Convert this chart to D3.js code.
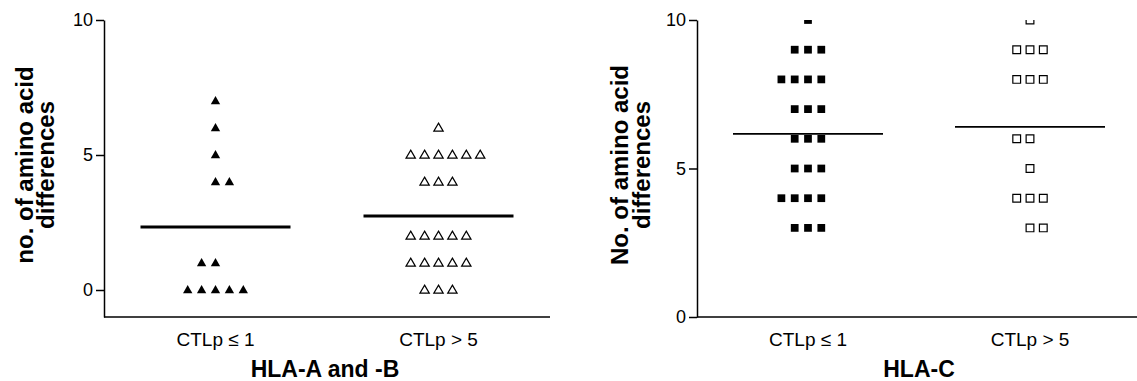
<!DOCTYPE html>
<html lang="en">
<head>
  <meta charset="UTF-8">
  <title>Amino acid differences by CTLp group</title>
  <script src="https://d3js.org/d3.v7.min.js"></script>
  <style>
    body { margin: 0; background: #fff; }
    svg { display: block; font-family: "Liberation Sans", Arial, sans-serif; }
    .axis path, .axis line { stroke: #000; stroke-width: 1.5px; }
    .axis text { font-size: 18px; fill: #000; }
    .ylab { font-weight: bold; font-size: 24px; fill: #000; }
    .title { font-weight: bold; font-size: 23px; fill: #000; }
  </style>
</head>
<body>
  <div id="vis"></div>
  <script>
    // categories and tick labels
    const categories = ["CTLp \u2264 1", "CTLp > 5"];
    const yTicks = [0, 5, 10];

    // points as [value, column slot] — slot is the dot's column within its row
    const abLow = [[0,-2],[0,-1],[0,0],[0,1],[0,2],[1,-1],[1,0],[4,0],[4,1],[5,0],[6,0],[7,0]];
    const abHigh = [[0,-1],[0,0],[0,1],
      [1,-2],[1,-1],[1,0],[1,1],[1,2],
      [2,-2],[2,-1],[2,0],[2,1],[2,2],
      [4,-1],[4,0],[4,1],
      [5,-2],[5,-1],[5,0],[5,1],[5,2],[5,3],
      [6,0]];
    const cLow = [[3,-1],[3,0],[3,1],
      [4,-2],[4,-1],[4,0],[4,1],
      [5,-1],[5,0],[5,1],
      [6,-1],[6,0],[6,1],
      [7,-1],[7,0],[7,1],
      [8,-2],[8,-1],[8,0],[8,1],
      [9,-1],[9,0],[9,1],
      [10,0]];
    const cHigh = [[3,0],[3,1],
      [4,-1],[4,0],[4,1],
      [5,0],
      [6,-1],[6,0],
      [8,-1],[8,0],[8,1],
      [9,-1],[9,0],[9,1],
      [10,0]];

    const W = 1137, H = 381;
    const svg = d3.select("#vis").append("svg").attr("width", W).attr("height", H);

    const panels = [
      { id: "ab", x0: 104, x1: 550, xr: 550, yDomain: [-1, 10], groups: [abLow, abHigh],
        shape: d3.symbolTriangle, size: 38, step: 13.9, meanW: 3, title: "HLA-A and -B", titleX: 325,
        ylab: ["no. of amino acid", "differences"], labX: [33, 54] },
      { id: "c", x0: 697, x1: 1141, xr: 1137, yDomain: [0, 10], groups: [cLow, cHigh],
        shape: d3.symbolSquare, size: 60, step: 13.3, meanW: 1.6, title: "HLA-C", titleX: 919,
        ylab: ["No. of amino acid", "differences"], labX: [628, 650] }
    ];

    const plotTop = 20, plotBottom = 317;

    panels.forEach(p => {
      const g = svg.append("g");
      const y = d3.scaleLinear().domain(p.yDomain).range([plotBottom, plotTop]);
      const x = d3.scaleBand().domain(categories).range([p.x0, p.x1]);

      // y axis
      g.append("g").attr("class", "axis")
        .attr("transform", `translate(${p.x0},0)`)
        .call(d3.axisLeft(y).tickValues(yTicks).tickSize(8).tickSizeOuter(0).tickPadding(3));

      // x axis line
      g.append("line")
        .attr("x1", p.x0).attr("x2", p.xr)
        .attr("y1", plotBottom).attr("y2", plotBottom)
        .attr("stroke", "#000").attr("stroke-width", 1.5);

      // category labels
      g.selectAll("text.catlab").data(categories).join("text")
        .attr("class", "catlab")
        .attr("x", d => x(d) + x.bandwidth() / 2)
        .attr("y", 346)
        .attr("text-anchor", "middle")
        .style("font-size", "19px")
        .text(d => d);

      // panel title
      g.append("text").attr("class", "title")
        .attr("x", p.titleX).attr("y", 377)
        .attr("text-anchor", "middle")
        .text(p.title);

      // y label (two lines)
      p.ylab.forEach((t, i) => {
        g.append("text").attr("class", "ylab")
          .attr("transform", `translate(${p.labX[i]},165) rotate(-90)`)
          .attr("text-anchor", "middle")
          .text(t);
      });

      // clip to plot area
      const clipId = "clip-" + p.id;
      svg.append("clipPath").attr("id", clipId)
        .append("rect").attr("x", p.x0).attr("y", plotTop)
        .attr("width", p.xr - p.x0).attr("height", plotBottom - plotTop);

      const plot = g.append("g").attr("clip-path", `url(#${clipId})`);
      const sym = d3.symbol().type(p.shape).size(p.size);

      p.groups.forEach((pts, gi) => {
        const cx = x(categories[gi]) + x.bandwidth() / 2;
        const filled = gi === 0;

        plot.selectAll(null).data(pts).join("path")
          .attr("d", sym)
          .attr("transform", d => {
            const yy = y(d[0]) + (p.shape === d3.symbolTriangle ? 0.5 : 0);
            return `translate(${cx + d[1] * p.step},${yy})`;
          })
          .attr("fill", filled ? "#000" : "#fff")
          .attr("stroke", "#000")
          .attr("stroke-width", filled ? 0 : 1.2);

        const m = d3.mean(pts, d => d[0]);
        plot.append("line")
          .attr("x1", cx - 75).attr("x2", cx + 75)
          .attr("y1", y(m)).attr("y2", y(m))
          .attr("stroke", "#000")
          .attr("stroke-width", p.meanW);
      });
    });
  </script>
</body>
</html>
